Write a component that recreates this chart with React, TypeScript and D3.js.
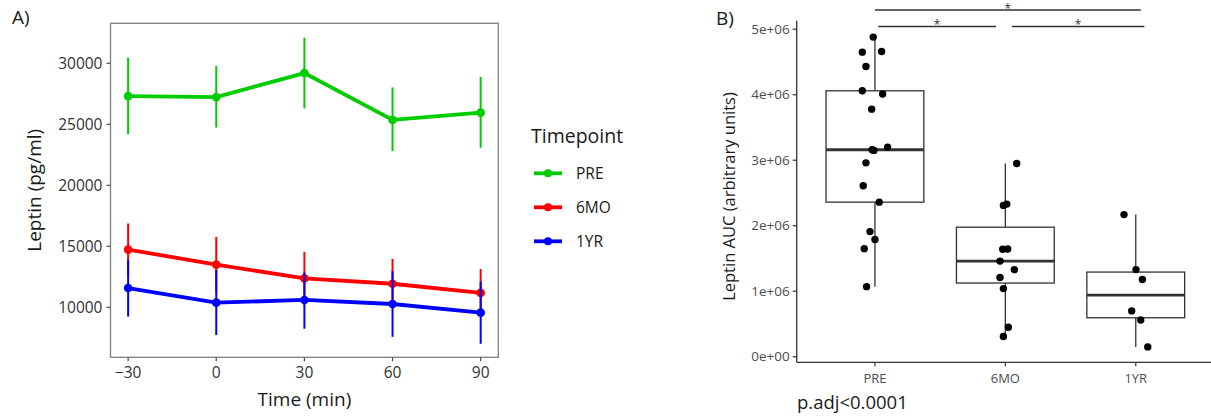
import React from "react";
import * as d3 from "d3";

// ---- panel A data: leptin over time (mean with error bar limits) ----
const times = [-30, 0, 30, 60, 90];
const groups = ["PRE", "6MO", "1YR"];
const groupColors = ["#00CC00", "#FF0000", "#0000FF"];

const preMean = [27310, 27230, 29200, 25360, 25960];
const preLow = [24190, 24740, 26300, 22800, 23080];
const preHigh = [30460, 29780, 32100, 28020, 28890];

const mo6Mean = [14730, 13500, 12370, 11930, 11180];
const mo6Low = [12590, 11220, 10200, 9900, 9220];
const mo6High = [16870, 15770, 14540, 13970, 13140];

const yr1Mean = [11580, 10380, 10600, 10270, 9560];
const yr1Low = [9240, 7730, 8240, 7580, 7010];
const yr1High = [13900, 13050, 12860, 12960, 12110];

const aYTicks = [10000, 15000, 20000, 25000, 30000];
const aXTicks = [-30, 0, 30, 60, 90];

// ---- panel B data: leptin AUC per subject ----
const preAuc = [4.88e6, 4.66e6, 4.65e6, 4.43e6, 4.06e6, 4.01e6, 3.78e6, 3.2e6, 3.16e6, 3.15e6, 2.96e6, 2.61e6, 2.36e6, 1.91e6, 1.79e6, 1.65e6, 1.07e6];
const preJitter = [-0.013, 0.051, -0.097, -0.069, -0.097, 0.059, -0.025, 0.097, -0.021, -0.008, -0.069, -0.09, 0.033, -0.038, 0, -0.082, -0.064];
const mo6Auc = [2.95e6, 2.33e6, 2.31e6, 1.645e6, 1.64e6, 1.46e6, 1.33e6, 1.21e6, 1.04e6, 0.45e6, 0.31e6];
const mo6Jitter = [0.087, 0.011, -0.015, 0.018, -0.02, -0.041, 0.069, -0.041, -0.015, 0.023, -0.015];
const yr1Auc = [2.17e6, 1.33e6, 1.18e6, 0.7e6, 0.56e6, 0.15e6];
const yr1Jitter = [-0.09, 0.002, 0.051, -0.031, 0.038, 0.092];

const bYTicks = [0, 1e6, 2e6, 3e6, 4e6, 5e6];
const bYTickLabels = ["0e+00", "1e+06", "2e+06", "3e+06", "4e+06", "5e+06"];
const comparisons = [
  { from: "PRE", to: "1YR", label: "*" },
  { from: "PRE", to: "6MO", label: "*" },
  { from: "6MO", to: "1YR", label: "*" },
];

const FONT = "'Open Sans', 'DejaVu Sans', sans-serif";

function PanelA() {
  const x = d3.scaleLinear().domain([-36, 96]).range([110.5, 498.3]);
  const y = d3.scaleLinear().domain([5900, 33280]).range([357.3, 23.3]);
  const series = [
    { name: groups[0], color: groupColors[0], mean: preMean, low: preLow, high: preHigh },
    { name: groups[1], color: groupColors[1], mean: mo6Mean, low: mo6Low, high: mo6High },
    { name: groups[2], color: groupColors[2], mean: yr1Mean, low: yr1Low, high: yr1High },
  ];
  const line = d3.line<number>().x((_, i) => x(times[i])).y((d) => y(d));
  const [x0, x1] = x.range();
  const [y0, y1] = y.range();
  return (
    <g fontFamily={FONT}>
      <text x={12} y={24} fontSize={19} fill="#1a1a1a">A)</text>
      {series.map((s) => (
        <g key={s.name}>
          {times.map((t, i) => (
            <line key={t} x1={x(t)} x2={x(t)} y1={y(s.low[i])} y2={y(s.high[i])} stroke={s.color} strokeWidth={2} />
          ))}
          <path d={line(s.mean) || ""} fill="none" stroke={s.color} strokeWidth={3.8} />
          {times.map((t, i) => (
            <circle key={t} cx={x(t)} cy={y(s.mean[i])} r={4.3} fill={s.color} />
          ))}
        </g>
      ))}
      <rect x={x0} y={y1} width={x1 - x0} height={y0 - y1} fill="none" stroke="#7f7f7f" strokeWidth={1.3} />
      {aYTicks.map((v) => (
        <g key={v}>
          <line x1={x0 - 4} x2={x0} y1={y(v)} y2={y(v)} stroke="#4d4d4d" strokeWidth={1.2} />
          <text x={x0 - 8} y={y(v)} dy="0.35em" textAnchor="end" fontSize={15.5} fill="#333">{v}</text>
        </g>
      ))}
      {aXTicks.map((v) => (
        <g key={v}>
          <line x1={x(v)} x2={x(v)} y1={y0} y2={y0 + 4} stroke="#4d4d4d" strokeWidth={1.2} />
          <text x={x(v)} y={y0 + 21} textAnchor="middle" fontSize={15.5} fill="#333">{v < 0 ? "\u2212" + Math.abs(v) : v}</text>
        </g>
      ))}
      <text x={(x0 + x1) / 2} y={406} textAnchor="middle" fontSize={19} fill="#1a1a1a">Time (min)</text>
      <text transform={`translate(41,${(y0 + y1) / 2}) rotate(-90)`} textAnchor="middle" fontSize={19} fill="#1a1a1a">Leptin (pg/ml)</text>
      {/* legend */}
      <text x={531} y={143} fontSize={19.5} fill="#1a1a1a">Timepoint</text>
      {groups.map((g, i) => {
        const ly = 173.3 + i * 34;
        return (
          <g key={g}>
            <line x1={534} x2={562} y1={ly} y2={ly} stroke={groupColors[i]} strokeWidth={3.8} />
            <circle cx={548} cy={ly} r={4} fill={groupColors[i]} />
            <text x={576} y={ly} dy="0.36em" fontSize={15.5} fill="#1a1a1a">{g}</text>
          </g>
        );
      })}
    </g>
  );
}

function PanelB() {
  const x = d3.scalePoint<string>().domain(groups).range([796.7, 1214]).padding(0.6);
  const y = d3.scaleLinear().domain([-85000, 5.13e6]).range([362.3, 20.7]);
  const step = x.step();
  const boxW = step * 0.75;
  const sets = [
    { name: groups[0], values: preAuc, jitter: preJitter },
    { name: groups[1], values: mo6Auc, jitter: mo6Jitter },
    { name: groups[2], values: yr1Auc, jitter: yr1Jitter },
  ];
  const stats = sets.map((s) => {
    const sorted = [...s.values].sort(d3.ascending);
    const q1 = d3.quantile(sorted, 0.25) as number;
    const med = d3.quantile(sorted, 0.5) as number;
    const q3 = d3.quantile(sorted, 0.75) as number;
    const iqr = q3 - q1;
    const lo = d3.min(sorted.filter((v) => v >= q1 - 1.5 * iqr)) as number;
    const hi = d3.max(sorted.filter((v) => v <= q3 + 1.5 * iqr)) as number;
    return { ...s, q1, med, q3, lo, hi };
  });
  const axisX = 796.7;
  const axisY = 362.3;
  // bracket rows and small horizontal nudges, as drawn in the original
  const barRows = [10, 26.5, 26.5];
  const nudges = [
    [0, 5],
    [3.3, -9.3],
    [6.4, 8.6],
  ];
  return (
    <g fontFamily={FONT}>
      <text x={716} y={25} fontSize={19} fill="#1a1a1a">B)</text>
      {stats.map((s) => {
        const cx = x(s.name) as number;
        return (
          <g key={s.name}>
            <line x1={cx} x2={cx} y1={y(s.hi)} y2={y(s.q3)} stroke="#333" strokeWidth={1.3} />
            <line x1={cx} x2={cx} y1={y(s.q1)} y2={y(s.lo)} stroke="#333" strokeWidth={1.3} />
            <rect x={cx - boxW / 2} y={y(s.q3)} width={boxW} height={y(s.q1) - y(s.q3)} fill="white" stroke="#333" strokeWidth={1.3} />
            <line x1={cx - boxW / 2} x2={cx + boxW / 2} y1={y(s.med)} y2={y(s.med)} stroke="#333" strokeWidth={2.8} />
            {s.values.map((v, i) => (
              <circle key={i} cx={cx + s.jitter[i] * step} cy={y(v)} r={3.7} fill="black" />
            ))}
          </g>
        );
      })}
      {comparisons.map((c, i) => {
        const xa = (x(c.from) as number) + nudges[i][0];
        const xb = (x(c.to) as number) + nudges[i][1];
        const yy = barRows[i];
        return (
          <g key={i}>
            <line x1={xa} x2={xb} y1={yy} y2={yy} stroke="#333" strokeWidth={1.3} />
            <text x={(xa + xb) / 2} y={yy + 2.8} textAnchor="middle" fontSize={12} fill="#333">{c.label}</text>
          </g>
        );
      })}
      <line x1={axisX} x2={axisX} y1={20.7} y2={axisY} stroke="#333" strokeWidth={1.3} />
      <line x1={axisX} x2={1211} y1={axisY} y2={axisY} stroke="#333" strokeWidth={1.3} />
      {bYTicks.map((v, i) => (
        <g key={v}>
          <line x1={axisX - 4} x2={axisX} y1={y(v)} y2={y(v)} stroke="#333" strokeWidth={1.2} />
          <text x={axisX - 7} y={y(v)} dy="0.35em" textAnchor="end" fontSize={13.5} fill="#4d4d4d">{bYTickLabels[i]}</text>
        </g>
      ))}
      {groups.map((g) => (
        <g key={g}>
          <line x1={x(g)} x2={x(g)} y1={axisY} y2={axisY + 4} stroke="#333" strokeWidth={1.2} />
          <text x={x(g)} y={axisY + 21} textAnchor="middle" fontSize={13} fill="#4d4d4d">{g}</text>
        </g>
      ))}
      <text transform={`translate(735,${(axisY + 20.7) / 2 + 5}) rotate(-90)`} textAnchor="middle" fontSize={16.5} fill="#1a1a1a">Leptin AUC (arbitrary units)</text>
      <text x={797} y={409} fontSize={18.5} fill="#1a1a1a">p.adj&lt;0.0001</text>
    </g>
  );
}

export default function App() {
  return (
    <svg width={1211} height={417} style={{ position: "absolute", left: 0, top: 0, background: "white" }}>
      <PanelA />
      <PanelB />
    </svg>
  );
}
